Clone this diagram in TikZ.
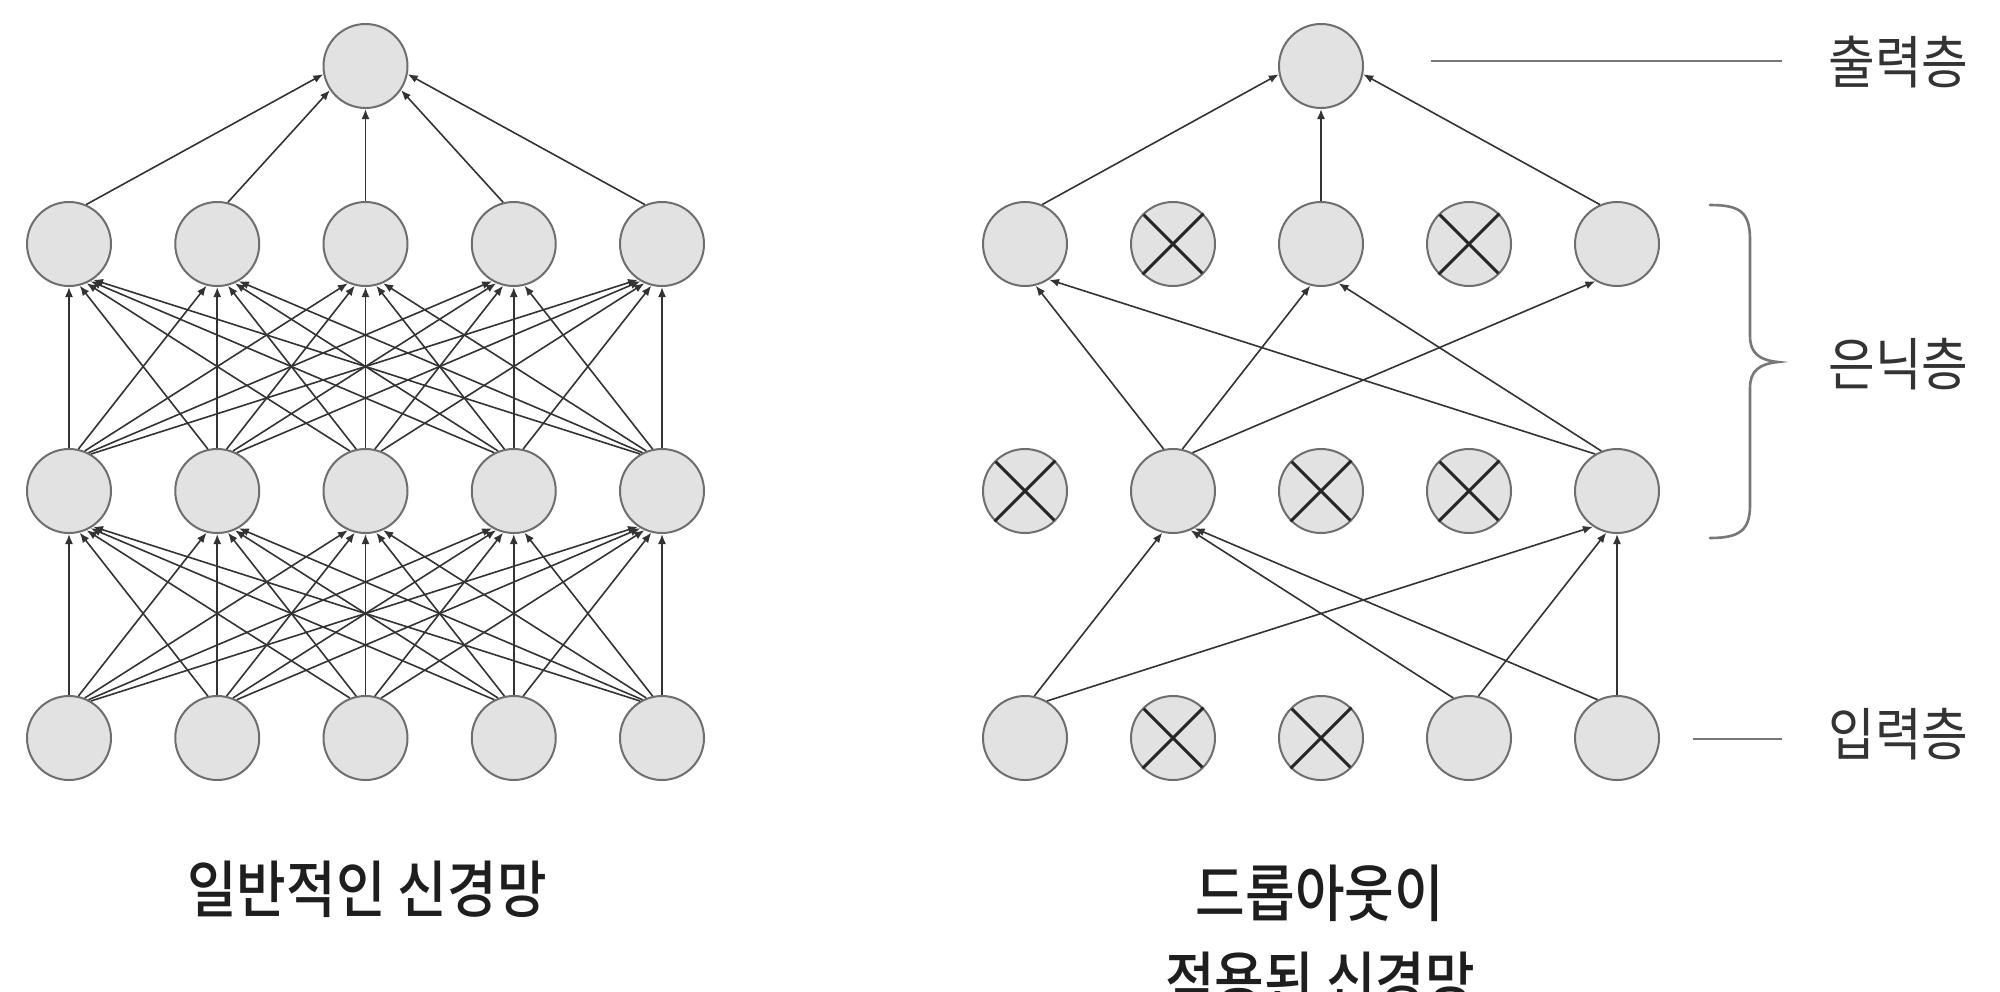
\documentclass[tikz,border=0pt]{standalone}
\usepackage{fontspec}
\newfontfamily\krfont[FakeStretch=0.89]{Noto Sans CJK KR}
\IfFontExistsTF{Noto Sans CJK KR Medium}
  {\newfontfamily\krtitle[FakeStretch=0.87]{Noto Sans CJK KR Medium}}
  {\newfontfamily\krtitle[FakeStretch=0.87,FakeBold=1.3]{Noto Sans CJK KR}}
\usetikzlibrary{arrows.meta,calc}
\definecolor{nfill}{HTML}{E2E2E2}
\definecolor{nedge}{HTML}{6E6E6E}
\definecolor{cline}{HTML}{333333}
\definecolor{gline}{HTML}{777777}
\definecolor{ltext}{HTML}{333333}
\definecolor{ttext}{HTML}{1E1E1E}
\tikzset{
  neuron/.style={circle, fill=nfill, draw=nedge, line width=1pt, minimum size=42pt, inner sep=0pt},
  conn/.style={draw=cline, line width=0.8pt, -{Latex[length=5pt,width=4pt]}},
  xmark/.style={draw=black!85, line width=1.5pt, shorten <=0.8pt, shorten >=0.8pt},
  guide/.style={draw=gline, line width=1.3pt},
  lbl/.style={font=\krfont\fontsize{28.5pt}{34pt}\selectfont, text=ltext, inner sep=0pt, anchor=west},
  ttl/.style={font=\krtitle\fontsize{31pt}{43.5pt}\selectfont, text=ttext, inner sep=0pt, align=center}
}
% connector from #1 to #2; start leaves #1 aimed from 30px above its centre,
% end aims at a point #3 px below the centre of #2; both clipped at the circle
\newcommand\nnlink[3]{%
  \pgfpointanchor{#1}{center}\pgfgetlastxy{\lnSX}{\lnSY}%
  \pgfpointanchor{#2}{center}\pgfgetlastxy{\lnTX}{\lnTY}%
  \pgfmathsetmacro\lnD{(#3)/2}%
  \pgfmathsetmacro\lnX{(\lnTX-\lnSX)/10}%
  \pgfmathsetmacro\lnY{((\lnTY-\lnD)-(\lnSY+15))/10}%
  \pgfmathsetmacro\lnL{veclen(\lnX,\lnY)}%
  \pgfmathsetmacro\lnN{\lnY/\lnL}%
  \pgfmathsetmacro\lnV{15*\lnN}%
  \pgfmathsetmacro\lnS{-(\lnV)+sqrt((\lnV)*(\lnV)-225+462.25)}%
  \pgfmathsetmacro\lnW{-(\lnD)*(\lnN)}%
  \pgfmathsetmacro\lnE{\lnW+sqrt((\lnW)*(\lnW)-(\lnD)*(\lnD)+462.25)}%
  \draw[conn, shorten <=\lnS pt, shorten >=\lnE pt] ($(#1)+(0,-30)$) -- ($(#2)+(0,#3)$);%
}
\newcommand\dropx[1]{\draw[xmark] (#1.45) -- (#1.225) (#1.135) -- (#1.315);}
\begin{document}
\begin{tikzpicture}[x=0.5pt,y=-0.5pt]
\useasboundingbox (0,0) rectangle (2000,991);
\fill[white] (0,0) rectangle (2000,991);

% ---------- left: ordinary network ----------
\foreach \i in {1,...,5}{
  \pgfmathsetmacro\xx{69+148.25*(\i-1)}
  \node[neuron] (A1\i) at (\xx,738) {};
  \node[neuron] (A2\i) at (\xx,491) {};
  \node[neuron] (A3\i) at (\xx,244) {};
}
\node[neuron] (A4) at (365.5,66) {};
\foreach \i in {1,...,5}{
  \foreach \j in {1,...,5}{
    \nnlink{A1\i}{A2\j}{28}
    \nnlink{A2\i}{A3\j}{28}
  }
  \nnlink{A3\i}{A4}{-15}
}

% ---------- right: network with dropout ----------
\foreach \i in {1,...,5}{
  \pgfmathsetmacro\xx{1025+148*(\i-1)}
  \node[neuron] (B1\i) at (\xx,738) {};
  \node[neuron] (B2\i) at (\xx,491) {};
  \node[neuron] (B3\i) at (\xx,244) {};
}
\node[neuron] (B4) at (1321,66) {};
\dropx{B12}\dropx{B13}
\dropx{B21}\dropx{B23}\dropx{B24}
\dropx{B32}\dropx{B34}

\nnlink{B11}{B22}{28}
\nnlink{B11}{B25}{28}
\nnlink{B14}{B22}{28}
\nnlink{B14}{B25}{28}
\nnlink{B15}{B22}{28}
\nnlink{B15}{B25}{28}
\nnlink{B22}{B31}{28}
\nnlink{B22}{B33}{28}
\nnlink{B22}{B35}{28}
\nnlink{B25}{B31}{28}
\nnlink{B25}{B33}{28}
\nnlink{B31}{B4}{-15}
\nnlink{B33}{B4}{-15}
\nnlink{B35}{B4}{-15}

% ---------- layer labels ----------
\node[lbl] (lo) at (1828,62) {출력층};
\node[lbl] (lh) at (1828,364) {은닉층};
\node[lbl] (li) at (1828,734) {입력층};
\draw[guide] ($(lo.west)+(-397,-1)$) -- ($(lo.west)+(-46,-1)$);
\draw[guide] ($(li.west)+(-135,5)$) -- ($(li.west)+(-46,5)$);
\draw[guide, line cap=round] (1710,205) .. controls (1740,205) and (1750,212) .. (1750,240)
  -- (1750,336) .. controls (1750,352) and (1758,360) .. (1778,362)
  .. controls (1758,364) and (1750,372) .. (1750,388)
  -- (1750,505) .. controls (1750,530) and (1740,538) .. (1710,538);

% ---------- titles ----------
\node[ttl] (t1) at (367,889) {일반적인 신경망};
\node[ttl, anchor=north] (t2) at (1320,864) {드롭아웃이\\적용된 신경망};
\end{tikzpicture}
\end{document}
